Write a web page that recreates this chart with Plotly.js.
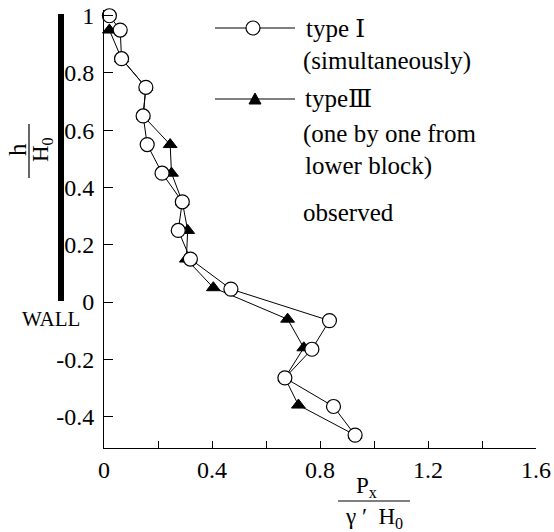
<!DOCTYPE html>
<html>
<head>
<meta charset="utf-8">
<script src="https://cdn.plot.ly/plotly-3.0.1.min.js"></script>
<style>html,body{margin:0;padding:0;background:#fff;}</style>
</head>
<body>
<div id="chart" style="width:554px;height:532px;"></div>
<script>
// Data
const typeI_x = [0.02, 0.06, 0.065, 0.155, 0.145, 0.16, 0.215, 0.29, 0.275, 0.32, 0.47, 0.835, 0.77, 0.67, 0.85, 0.93];
const typeI_h = [1.0, 0.95, 0.85, 0.75, 0.65, 0.55, 0.45, 0.35, 0.25, 0.15, 0.045, -0.065, -0.165, -0.265, -0.365, -0.465];
const typeIII_x = [0.02, 0.065, 0.155, 0.145, 0.245, 0.25, 0.29, 0.31, 0.305, 0.405, 0.68, 0.74, 0.67, 0.72, 0.93];
const typeIII_h = [0.95, 0.85, 0.75, 0.65, 0.55, 0.45, 0.35, 0.25, 0.15, 0.05, -0.06, -0.16, -0.265, -0.36, -0.465];
const xTickVals = [0, 0.2, 0.4, 0.6, 0.8, 1.0, 1.2, 1.4, 1.6];
const xTickText = ['0', '', '0.4', '', '0.8', '', '1.2', '', '1.6'];
const yTickVals = [-0.4, -0.2, 0, 0.2, 0.4, 0.6, 0.8, 1.0];
const yTickText = ['-0.4', '-0.2', '0', '0.2', '0.4', '0.6', '0.8', '1'];
const legendLines = ['type Ⅰ', '(simultaneously)', 'typeⅢ', '(one by one from', 'lower block)', 'observed'];

const FONT = 'Liberation Serif, DejaVu Serif, serif';
const L = 104, R = 536, T = 10, B = 448;
const px = x => (x - L) / (R - L);
const py = y => (B - y) / (B - T);

const traces = [
  {
    x: typeIII_x, y: typeIII_h, type: 'scatter', mode: 'lines+markers', name: 'typeⅢ',
    line: {color: '#000', width: 1},
    marker: {symbol: 'triangle-up', size: 12, color: '#000', line: {color: '#000', width: 1}},
    cliponaxis: false
  },
  {
    x: typeI_x, y: typeI_h, type: 'scatter', mode: 'lines+markers', name: 'type Ⅰ',
    line: {color: '#000', width: 1},
    marker: {symbol: 'circle', size: 14, color: '#fff', line: {color: '#000', width: 1.2}},
    cliponaxis: false
  }
];

const legendTextY = [28, 61, 99, 134, 166, 212];
const legendTextX = [304, 301, 303, 301, 303, 301];
const annotations = legendLines.map((t, i) => ({
  xref: 'paper', yref: 'paper', x: px(legendTextX[i]), y: py(legendTextY[i]),
  xanchor: 'left', yanchor: 'middle', showarrow: false, text: t,
  font: {family: FONT, size: 25, color: '#000'}
}));

// y-axis title (rotated fraction)
annotations.push({xref: 'paper', yref: 'paper', x: px(17), y: py(150), xanchor: 'center', yanchor: 'middle',
  showarrow: false, text: 'h', textangle: -90, font: {family: FONT, size: 25, color: '#000'}});
annotations.push({xref: 'paper', yref: 'paper', x: px(42), y: py(150), xanchor: 'center', yanchor: 'middle',
  showarrow: false, text: 'H<sub>0</sub>', textangle: -90, font: {family: FONT, size: 23, color: '#000'}});
// WALL label
annotations.push({xref: 'paper', yref: 'paper', x: px(51), y: py(319), xanchor: 'center', yanchor: 'middle',
  showarrow: false, text: 'WALL', font: {family: FONT, size: 21, color: '#000'}});
// x-axis title (fraction)
annotations.push({xref: 'paper', yref: 'paper', x: px(366), y: py(487), xanchor: 'center', yanchor: 'middle',
  showarrow: false, text: 'P<sub>x</sub>', font: {family: FONT, size: 23, color: '#000'}});
annotations.push({xref: 'paper', yref: 'paper', x: px(374), y: py(518), xanchor: 'center', yanchor: 'middle',
  showarrow: false, text: 'γ ′  H<sub>0</sub>', font: {family: FONT, size: 23, color: '#000'}});

const shapes = [
  // legend lines
  {type: 'line', xref: 'paper', yref: 'paper', x0: px(215), x1: px(295), y0: py(28), y1: py(28), line: {color: '#000', width: 1}},
  {type: 'line', xref: 'paper', yref: 'paper', x0: px(215), x1: px(295), y0: py(99), y1: py(99), line: {color: '#000', width: 1}},
  // legend markers
  {type: 'circle', xref: 'paper', yref: 'paper', xsizemode: 'pixel', ysizemode: 'pixel',
   xanchor: px(253), yanchor: py(28), x0: -7, x1: 7, y0: -7, y1: 7,
   fillcolor: '#fff', line: {color: '#000', width: 1.2}},
  {type: 'path', xref: 'paper', yref: 'paper', xsizemode: 'pixel', ysizemode: 'pixel',
   xanchor: px(255), yanchor: py(99), path: 'M -6 -5 L 6 -5 L 0 6 Z',
   fillcolor: '#000', line: {color: '#000', width: 1}},
  // wall
  {type: 'rect', xref: 'paper', yref: 'paper', x0: px(58), x1: px(64), y0: py(14), y1: py(301),
   fillcolor: '#000', line: {width: 0}},
  // y title fraction bar
  {type: 'line', xref: 'paper', yref: 'paper', x0: px(29), x1: px(29), y0: py(124), y1: py(178), line: {color: '#000', width: 1.2}},
  // x title fraction bar
  {type: 'line', xref: 'paper', yref: 'paper', x0: px(338), x1: px(410), y0: py(501), y1: py(501), line: {color: '#000', width: 1.2}}
];

const axisCommon = {
  showgrid: false, zeroline: false, showline: true, linecolor: '#000', linewidth: 1,
  ticks: 'inside', tickcolor: '#000', tickwidth: 1,
  tickfont: {family: FONT, size: 24, color: '#000'}, fixedrange: true
};

const layout = {
  width: 554, height: 532,
  margin: {l: L, r: 554 - R, t: T, b: 532 - B, pad: 0},
  paper_bgcolor: '#fff', plot_bgcolor: '#fff',
  showlegend: false,
  xaxis: Object.assign({}, axisCommon, {range: [0, 1.6], tickmode: 'array', tickvals: xTickVals, ticktext: xTickText, ticklen: 7}),
  yaxis: Object.assign({}, axisCommon, {range: [-0.51, 1.02], tickmode: 'array', tickvals: yTickVals, ticktext: yTickText, ticklen: 9, ticklabelstandoff: 4}),
  annotations: annotations,
  shapes: shapes
};

Plotly.newPlot('chart', traces, layout, {staticPlot: true, displayModeBar: false});
</script>
</body>
</html>
